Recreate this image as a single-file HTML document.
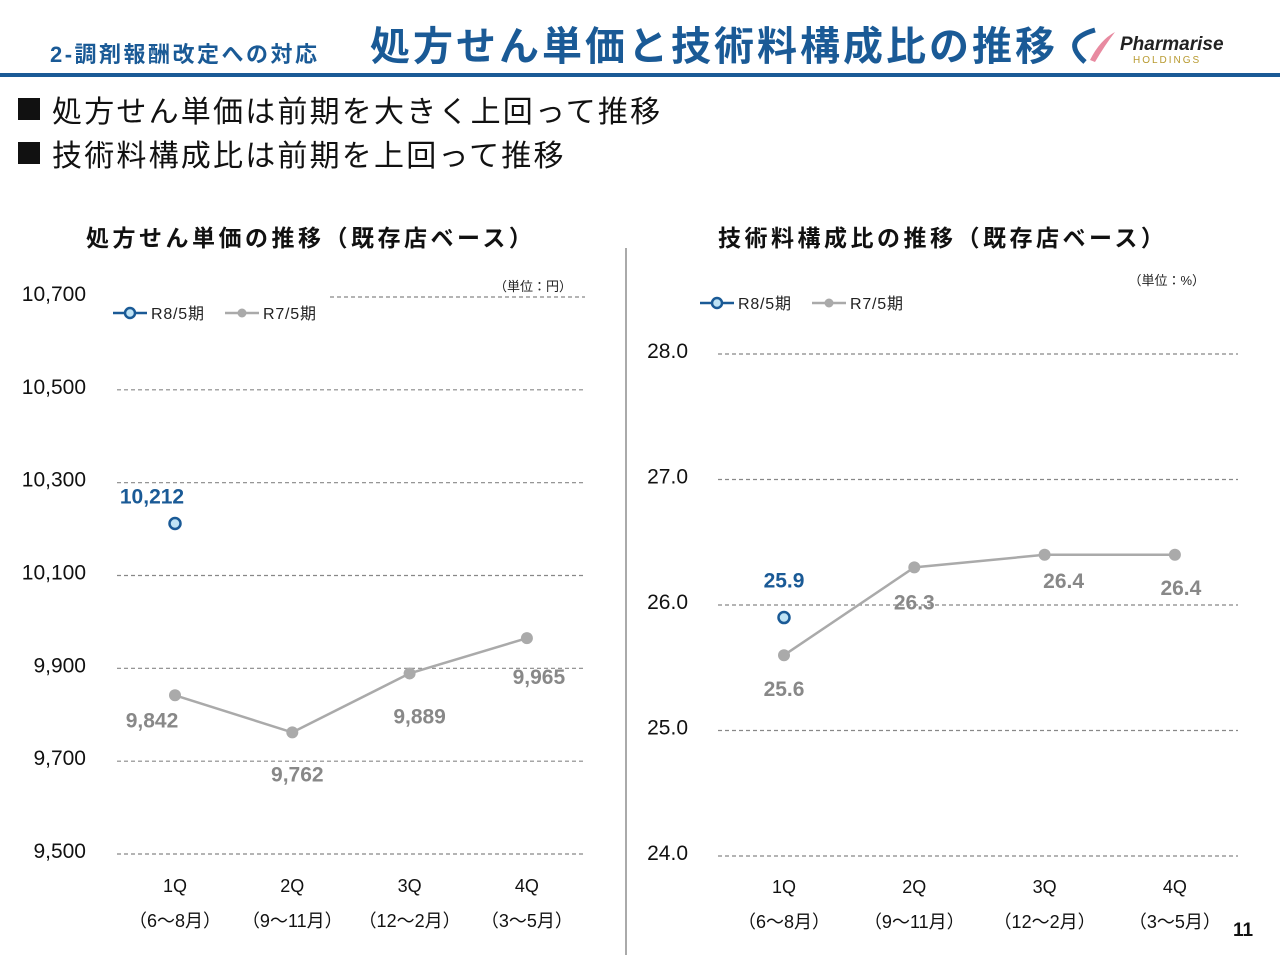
<!DOCTYPE html>
<html><head><meta charset="utf-8"><style>
body{margin:0;width:1280px;height:960px;background:#fff;font-family:"Liberation Sans","Noto Sans CJK JP",sans-serif;overflow:hidden}
svg{position:absolute;left:0;top:0}
</style></head><body>
<svg id="s" width="1280" height="960" xmlns="http://www.w3.org/2000/svg" font-family="Liberation Sans, Noto Sans CJK JP, sans-serif">
<text x="50" y="62" font-size="22" font-weight="bold" fill="#1a5a96" letter-spacing="2.5">2-調剤報酬改定への対応</text>
<text x="370" y="60" font-size="40" font-weight="bold" fill="#1a5a96" letter-spacing="3">処方せん単価と技術料構成比の推移</text>
<g>
<path d="M1085 62 Q1060 40 1095 30" stroke="#1a5a96" stroke-width="5" fill="none"/>
<path d="M1090 60 Q1100 40 1115 32 Q1105 45 1095 62 Z" fill="#e88aa0"/>
<text x="1120" y="50" font-size="19" font-style="italic" font-weight="bold" fill="#222">Pharmarise</text>
<text x="1133" y="63" font-size="10" fill="#b89a30" letter-spacing="2">HOLDINGS</text>
</g>
<rect x="0" y="73" width="1280" height="4" fill="#1a5a96"/>
<rect x="18" y="98" width="22" height="22" fill="#111"/>
<text x="52" y="122" font-size="30" fill="#111" letter-spacing="2.2">処方せん単価は前期を大きく上回って推移</text>
<rect x="18" y="142" width="22" height="22" fill="#111"/>
<text x="52" y="166" font-size="30" fill="#111" letter-spacing="2.2">技術料構成比は前期を上回って推移</text>
<text x="86" y="246" font-size="23" font-weight="bold" fill="#111" letter-spacing="3.5">処方せん単価の推移（既存店ベース）</text>
<text x="718" y="246" font-size="23" font-weight="bold" fill="#111" letter-spacing="3.5">技術料構成比の推移（既存店ベース）</text>
<line x1="626" y1="248" x2="626" y2="955" stroke="#aaa" stroke-width="2"/>
<text x="572" y="291" font-size="13" text-anchor="end" fill="#222">（単位：円）</text>
<text x="1205" y="285" font-size="13" text-anchor="end" fill="#222">（単位：%）</text>
<text x="1243" y="936" font-size="19" font-weight="bold" text-anchor="middle" fill="#111">11</text>
<g id="L"></g><g id="R"></g>
</svg>
<script>
const categories=["1Q","2Q","3Q","4Q"];
const catSub=["（6〜8月）","（9〜11月）","（12〜2月）","（3〜5月）"];
const leftTicks=[9500,9700,9900,10100,10300,10500,10700];
const leftR8=[10212,null,null,null];
const leftR7=[9842,9762,9889,9965];
const rightTicks=[24,25,26,27,28];
const rightR8=[25.9,null,null,null];
const rightR7=[25.6,26.3,26.4,26.4];
const NS="http://www.w3.org/2000/svg";
function mk(p,t,a){const e=document.createElementNS(NS,t);for(const k in a)e.setAttribute(k,a[k]);p.appendChild(e);return e;}
function chart(g,cfg){
 const y=v=>cfg.y0-(v-cfg.vmin)/(cfg.vmax-cfg.vmin)*(cfg.y0-cfg.y1);
 const x=i=>cfg.xs+i*cfg.dx;
 cfg.ticks.forEach(t=>{
  const l=mk(g,"line",{x1:(t===cfg.vmax&&cfg.topStart)?cfg.topStart:cfg.gx0,x2:cfg.gx1,y1:y(t),y2:y(t),stroke:"#888","stroke-dasharray":"4,3","stroke-width":1.2});
  
  
  const tx=mk(g,"text",{x:cfg.tx,y:y(t)+cfg.tdy,"font-size":21,"text-anchor":"end",fill:"#111"});
  tx.textContent=cfg.fmt(t);
  
  
 });
 categories.forEach((c,i)=>{
  const a=mk(g,"text",{x:x(i),y:cfg.cy,"font-size":18,"text-anchor":"middle",fill:"#111"});a.textContent=c;
  
  
  const b=mk(g,"text",{x:x(i),y:cfg.cy+35,"font-size":18,"text-anchor":"middle",fill:"#111"});b.textContent=catSub[i];
  
  
 });
 const pts=cfg.r7.map((v,i)=>x(i)+","+y(v)).join(" ");
 const pl=mk(g,"polyline",{points:pts,fill:"none",stroke:"#aaa","stroke-width":2.5});
 
 
 cfg.r7.forEach((v,i)=>{
  const c=mk(g,"circle",{cx:x(i),cy:y(v),r:6,fill:"#aaa"});
  
  
  const t=mk(g,"text",{x:x(i)+cfg.r7off[i][0],y:y(v)+cfg.r7off[i][1],"font-size":21,"font-weight":"bold","text-anchor":"middle",fill:"#888"});
  t.textContent=cfg.fmt(v);
  
  
 });
 cfg.r8.forEach((v,i)=>{if(v===null)return;
  const c=mk(g,"circle",{cx:x(i),cy:y(v),r:5.5,fill:"#bfe3f5",stroke:"#1a5a96","stroke-width":2.5});
  
  
  const t=mk(g,"text",{x:x(i)-8+cfg.r8off[0],y:y(v)+cfg.r8off[1],"font-size":21,"font-weight":"bold","text-anchor":"middle",fill:"#1a5a96"});
  t.textContent=cfg.fmt(v);
  
  
 });
 const lg=mk(g,"g",{});
 
 
 const lx=cfg.lx,ly=cfg.ly;
 mk(lg,"line",{x1:lx,x2:lx+34,y1:ly,y2:ly,stroke:"#1a5a96","stroke-width":2.5});
 mk(lg,"circle",{cx:lx+17,cy:ly,r:5,fill:"#bfe3f5",stroke:"#1a5a96","stroke-width":2.5});
 mk(lg,"text",{x:lx+38,y:ly+6,"font-size":16,fill:"#222","letter-spacing":"0.8"}).textContent="R8/5期";
 mk(lg,"line",{x1:lx+112,x2:lx+146,y1:ly,y2:ly,stroke:"#aaa","stroke-width":2.5});
 mk(lg,"circle",{cx:lx+129,cy:ly,r:4.5,fill:"#aaa"});
 mk(lg,"text",{x:lx+150,y:ly+6,"font-size":16,fill:"#222","letter-spacing":"0.8"}).textContent="R7/5期";
}
chart(document.getElementById("L"),{ticks:leftTicks,vmin:9500,vmax:10700,y0:854,y1:297,xs:175,dx:117.3,gx0:117,gx1:585,topStart:330,tx:86,tdy:4,cy:892,
 r7:leftR7,r8:leftR8,fmt:v=>v.toLocaleString("en-US"),r7off:[[-23,32],[5,49],[10,50],[12,46]],r8off:[-15,-20],lx:113,ly:313});
chart(document.getElementById("R"),{ticks:rightTicks,vmin:24,vmax:28,y0:856,y1:354,xs:784,dx:130.3,gx0:718,gx1:1238,tx:688,tdy:4,cy:893,
 r7:rightR7,r8:rightR8,fmt:v=>v.toFixed(1),r7off:[[0,41],[0,42],[19,33],[6,40]],r8off:[8,-30],lx:700,ly:303});
</script>
</body></html>
